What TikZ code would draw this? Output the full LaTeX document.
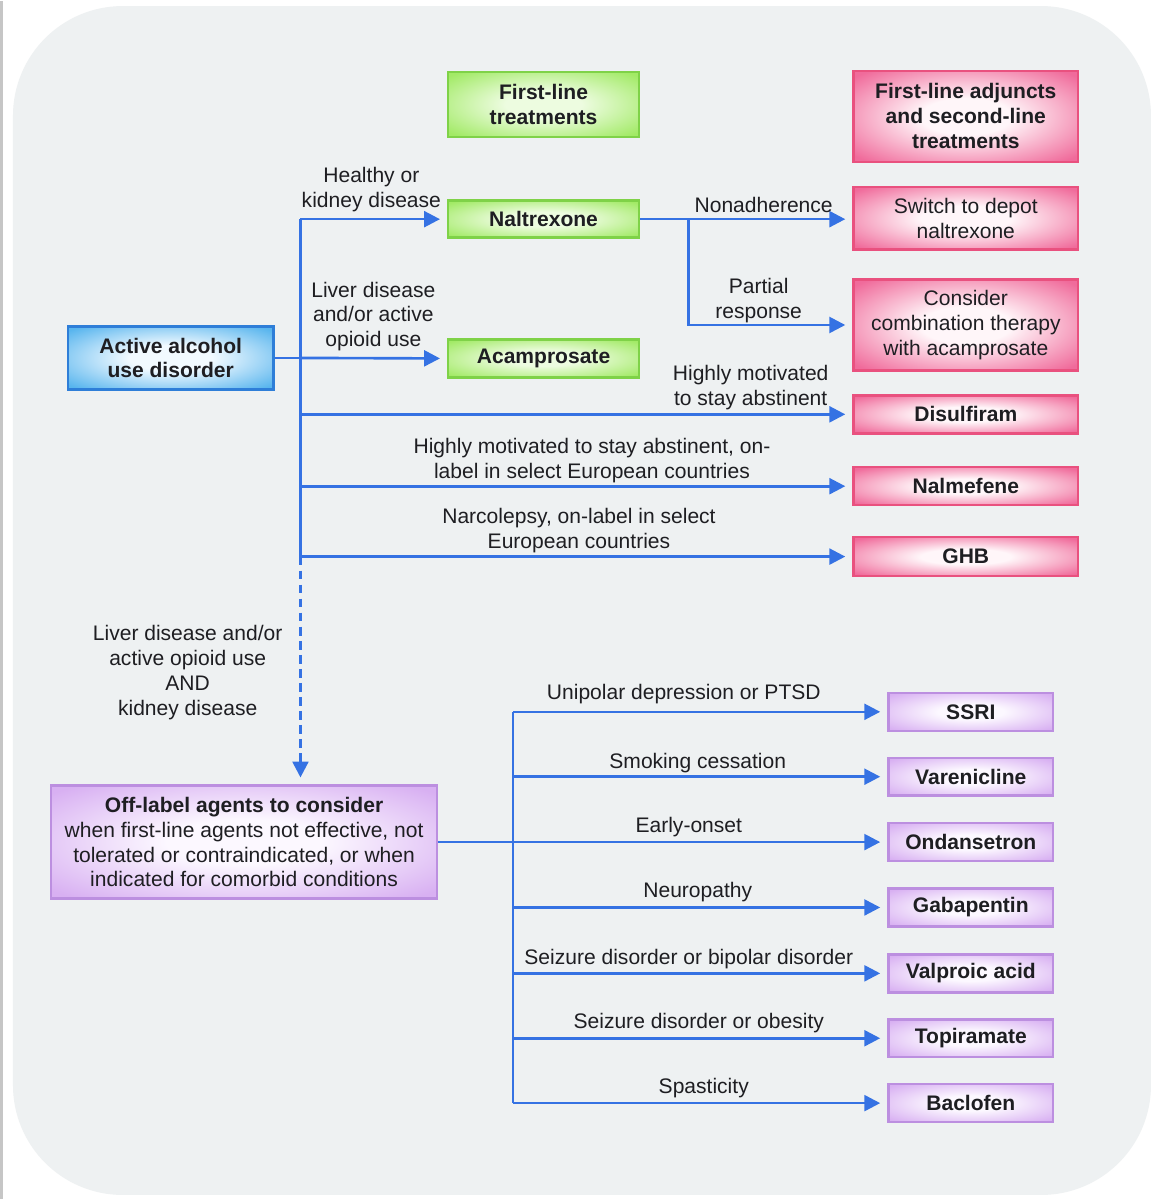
\documentclass[tikz,border=0pt]{standalone}
\usepackage{fontspec}
\setmainfont{Liberation Sans}
\usetikzlibrary{arrows.meta}
\definecolor{bg}{HTML}{EEF1F2}
\definecolor{arrowblue}{HTML}{3572E3}
\definecolor{txt}{HTML}{1E1E22}
\definecolor{grnE}{HTML}{A2EA66}\definecolor{grnC}{HTML}{EDFCE0}\definecolor{grnB}{HTML}{7FD248}
\definecolor{pnkE}{HTML}{F06B9B}\definecolor{pnkC}{HTML}{FFF6F9}\definecolor{pnkB}{HTML}{E9517F}
\definecolor{bluE}{HTML}{58B5EE}\definecolor{bluC}{HTML}{F2FAFF}\definecolor{bluB}{HTML}{2E7ED8}
\definecolor{purE}{HTML}{D8B0F2}\definecolor{purC}{HTML}{FCF8FF}\definecolor{purB}{HTML}{BC8FE0}
\pgfdeclareradialshading{grnrad}{\pgfpointorigin}{color(0bp)=(grnC); color(10bp)=(grnC); color(33bp)=(grnE); color(50bp)=(grnE)}
\pgfdeclareradialshading{pnkrad}{\pgfpointorigin}{color(0bp)=(pnkC); color(10bp)=(pnkC); color(33bp)=(pnkE); color(50bp)=(pnkE)}
\pgfdeclareradialshading{blurad}{\pgfpointorigin}{color(0bp)=(bluC); color(10bp)=(bluC); color(33bp)=(bluE); color(50bp)=(bluE)}
\pgfdeclareradialshading{purrad}{\pgfpointorigin}{color(0bp)=(purC); color(10bp)=(purC); color(33bp)=(purE); color(50bp)=(purE)}
\begin{document}
\begin{tikzpicture}[x=0.02cm,y=-0.02cm,
  every node/.style={font=\fontsize{12}{14.2}\selectfont, text=txt, align=center, inner sep=0pt},
  box/.style={rectangle, line width=1.4pt},
  bf/.style={font=\fontsize{12}{14.2}\selectfont\bfseries},
  gbox/.style={box, draw=grnB, shading=grnrad, minimum width=3.82cm},
  pbox/.style={box, draw=pnkB, shading=pnkrad, minimum width=4.5cm},
  bbox/.style={box, draw=bluB, shading=blurad},
  vbox/.style={box, draw=purB, shading=purrad},
  sbox/.style={vbox, bf, minimum width=3.3cm, minimum height=0.76cm},
  conn/.style={draw=arrowblue, line width=1.5pt},
  arr/.style={conn, -{Triangle[length=9pt,width=9pt]}, shorten >=4pt},
  lbl/.style={}
]
% background
\fill[white] (0,0) rectangle (1158,1200);
\fill[bg, rounded corners=2.2cm] (13,5) rectangle (1153,1196);
\draw[gray!45, line width=1.2pt] (1.5,0) -- (1.5,1200);

% header boxes
\node[gbox, bf, minimum height=1.30cm] (ftl) at (544.5,103.5) {First-line\\treatments};
\node[pbox, bf, minimum height=1.82cm] (adj) at (967.5,115.5) {First-line adjuncts\\and second-line\\treatments};

% first-line
\node[gbox, bf, minimum height=0.74cm] (nal) at (544.5,218.5) {Naltrexone};
\node[gbox, bf, minimum height=0.76cm] (aca) at (544.5,358) {Acamprosate};
\node[bbox, bf, minimum width=4.12cm, minimum height=1.26cm] (aud) at (171,357.5) {Active alcohol\\use disorder};

% second-line
\node[pbox, minimum height=1.26cm] (sw) at (967.5,217.5) {Switch to depot\\naltrexone};
\node[pbox, minimum height=1.82cm] (comb) at (967.5,324.5) {Consider\\combination therapy\\with acamprosate};
\node[pbox, bf, minimum height=0.76cm] (dis) at (967.5,414) {Disulfiram};
\node[pbox, bf, minimum height=0.76cm] (nmf) at (967.5,486) {Nalmefene};
\node[pbox, bf, minimum height=0.78cm] (ghb) at (967.5,556.5) {GHB};

% off-label
\node[vbox, minimum width=7.74cm, minimum height=2.26cm] (off) at (244.5,842.5) {\textbf{Off-label agents to consider}\\when first-line agents not effective, not\\tolerated or contraindicated, or when\\indicated for comorbid conditions};
\node[sbox] (ssri) at (972.5,712) {SSRI};
\node[sbox] (var) at (972.5,777) {Varenicline};
\node[sbox] (ond) at (972.5,842.5) {Ondansetron};
\node[sbox] (gab) at (972.5,908) {Gabapentin};
\node[sbox] (val) at (972.5,974) {Valproic acid};
\node[sbox] (top) at (972.5,1039) {Topiramate};
\node[sbox] (bac) at (972.5,1104) {Baclofen};

% connectors
\coordinate (j0) at (301,357.5);
\coordinate (j1) at (690,218.5);
\coordinate (j2) at (514,842.5);
\draw[conn] (aud.east) -- (j0);
\draw[conn] (nal.west -| j0) -- (ghb.west -| j0);
\draw[arr, dash pattern=on 5pt off 3pt] (ghb.west -| j0) -- (off.north -| j0);
\draw[arr] (nal.west -| j0) -- (nal.west);
\draw[arr] (j0) -- (aca.west);
\draw[arr] (dis.west -| j0) -- (dis.west);
\draw[arr] (nmf.west -| j0) -- (nmf.west);
\draw[arr] (ghb.west -| j0) -- (ghb.west);
\draw[arr] (nal.east) -- (sw.west |- nal.east);
\draw[arr] (j1) |- (comb.west);

\draw[conn] (off.east) -- (j2);
\draw[conn] (ssri.west -| j2) -- (bac.west -| j2);
\foreach \n in {ssri,var,ond,gab,val,top,bac}
  \draw[arr] (\n.west -| j2) -- (\n.west);

% labels
\node[lbl] (l1) at (372,189) {Healthy or\\kidney disease};
\node[lbl] (l2) at (374,316) {Liver disease\\and/or active\\opioid use};
\node[lbl] (l3) at (765,204) {Nonadherence};
\node[lbl] (l4) at (760,300) {Partial\\response};
\node[lbl] (l5) at (752,387) {Highly motivated\\to stay abstinent};
\node[lbl] (l6) at (593,460) {Highly motivated to stay abstinent, on-\\label in select European countries};
\node[lbl] (l7) at (580,530) {Narcolepsy, on-label in select\\European countries};
\node[lbl] (l8) at (188,673) {Liver disease and/or\\active opioid use\\AND\\kidney disease};
\node[lbl] (l9) at (685,694) {Unipolar depression or PTSD};
\node[lbl] (l10) at (699,763) {Smoking cessation};
\node[lbl] (l11) at (690,827) {Early-onset};
\node[lbl] (l12) at (699,893) {Neuropathy};
\node[lbl] (l13) at (690,960) {Seizure disorder or bipolar disorder};
\node[lbl] (l14) at (700,1024) {Seizure disorder or obesity};
\node[lbl] (l15) at (705,1089) {Spasticity};
\end{tikzpicture}
\end{document}
